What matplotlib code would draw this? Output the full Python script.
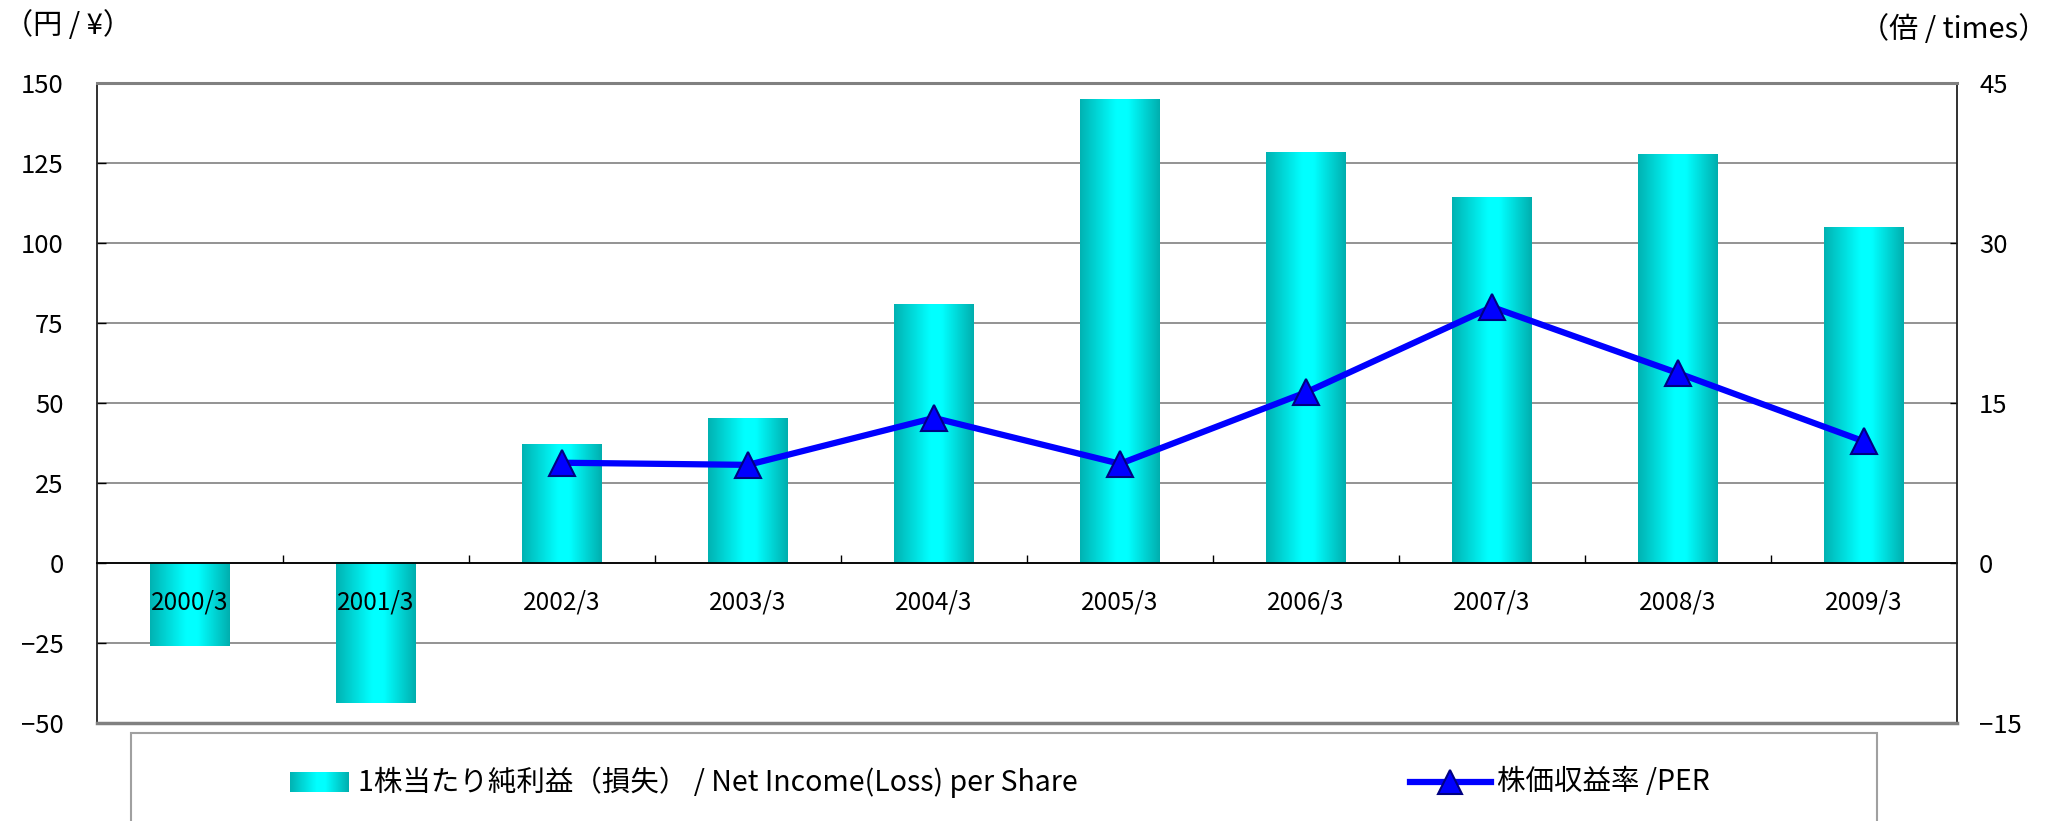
import numpy as np
import matplotlib.pyplot as plt
from matplotlib.colors import LinearSegmentedColormap
from matplotlib.patches import Rectangle
from matplotlib.lines import Line2D

plt.rcParams["font.family"] = ["Noto Sans CJK JP", "DejaVu Sans"]

# data
years = ["2000/3", "2001/3", "2002/3", "2003/3", "2004/3",
         "2005/3", "2006/3", "2007/3", "2008/3", "2009/3"]
eps = [-25.9, -43.8, 36.9, 45.3, 80.9, 145.0, 128.4, 114.1, 127.8, 105.0]
per = [np.nan, np.nan, 9.4, 9.2, 13.6, 9.3, 16.0, 24.0, 17.8, 11.4]

eps_label = "1株当たり純利益（損失） / Net Income(Loss) per Share"
per_label = "株価収益率 /PER"

W, H = 2051, 821
fig = plt.figure(figsize=(W / 100, H / 100), dpi=100)
ax = fig.add_axes([97 / W, 1 - 723 / H, (1957 - 97) / W, (723 - 83) / H])

# =========================
# BARS WITH GRADIENT
# =========================
x = np.arange(len(years))
bars = ax.bar(x, eps, width=0.425, color="none", edgecolor="none")

teal = LinearSegmentedColormap.from_list(
    "teal", [(0, "#00B2B2"), (0.45, "#00FFFF"), (0.6, "#00FFFF"), (1, "#00AEAE")])
grad = np.linspace(0, 1, 256).reshape(1, -1)
for b in bars:
    x0, y0 = b.get_x(), b.get_y()
    ax.imshow(grad, cmap=teal, aspect="auto", interpolation="bilinear",
              extent=[x0, x0 + b.get_width(), y0, y0 + b.get_height()], zorder=1)

ax.set_xlim(-0.5, len(years) - 0.5)
ax.set_ylim(-50, 150)
ax.set_yticks(range(-50, 151, 25))
for t in ax.get_yticks():
    ax.axhline(t, color="#808080", lw=1.2, zorder=0.5)

# category axis sits on zero
ax.spines["bottom"].set_position(("data", 0))
ax.spines["bottom"].set_color("black")
ax.spines["bottom"].set_linewidth(1.3)
ax.spines["top"].set_visible(False)
ax.spines["right"].set_visible(False)
ax.spines["left"].set_color("#202020")
ax.spines["left"].set_linewidth(1.3)

ax.set_xticks(x, years)
ax.set_xticks(np.arange(0.5, len(years) - 1, 1), minor=True)
ax.tick_params(axis="x", which="major", length=0, pad=19, labelsize=17.5)
ax.tick_params(axis="x", which="minor", direction="in", length=6, width=1)
ax.tick_params(axis="y", direction="in", length=6.5, width=1, pad=24, labelsize=18.5)

# =========================
# PER LINE
# =========================
ax2 = ax.twinx()
ax2.plot(x, per, color="#0000FF", lw=4.5, marker="^", ms=19,
         mfc="#0000FF", mec="#000080", mew=1.5)
ax2.set_ylim(-15, 45)
ax2.set_yticks(range(-15, 46, 15))
ax2.tick_params(axis="y", direction="in", length=5, width=1, pad=16, labelsize=18.5)
ax2.spines["left"].set_visible(False)
ax2.spines["top"].set_color("#808080")
ax2.spines["top"].set_linewidth(2.2)
ax2.spines["bottom"].set_color("#808080")
ax2.spines["bottom"].set_linewidth(2.5)
ax2.spines["right"].set_color("#202020")
ax2.spines["right"].set_linewidth(1.3)

fig.text(0.002, 1 - 26 / H, "（円 / ¥）", ha="left", va="center", fontsize=21)
fig.text(0.998, 1 - 30 / H, "（倍 / times）", ha="right", va="center", fontsize=21)

# =========================
# LEGEND BOX
# =========================
fig.add_artist(Rectangle((131 / W, -0.1), 1746 / W, 0.1 + 1 - 733 / H,
                         transform=fig.transFigure, facecolor="none",
                         edgecolor="#A0A0A0", lw=1.5))
sw = fig.add_axes([290 / W, 1 - 792 / H, 59 / W, 20 / H])
sw.imshow(grad, cmap=teal, aspect="auto", interpolation="bilinear")
sw.axis("off")
fig.text(358 / W, 1 - 782 / H, eps_label, ha="left", va="center", fontsize=20.5)

ly = 1 - 782 / H
fig.add_artist(Line2D([1410 / W, 1491 / W], [ly, ly], transform=fig.transFigure,
                      color="#0000FF", lw=4.5))
fig.add_artist(Line2D([1450 / W], [ly], transform=fig.transFigure, marker="^", ms=17,
                      color="#0000FF", mfc="#0000FF", mec="#000080", mew=1.5))
fig.text(1497 / W, ly, per_label, ha="left", va="center", fontsize=20.5)

fig.savefig("out.png", dpi=100)
